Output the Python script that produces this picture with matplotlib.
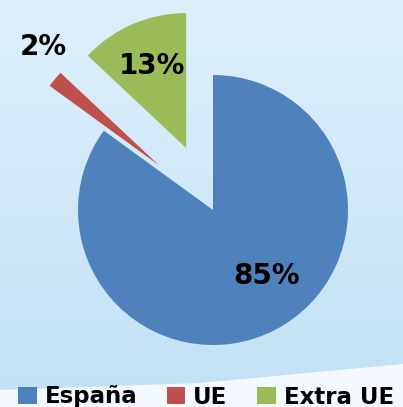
import numpy as np
import matplotlib.pyplot as plt
from matplotlib.patches import Polygon

# datos
categorias = ["España", "UE", "Extra UE"]
valores = [85, 2, 13]
etiquetas = ["85%", "2%", "13%"]
colores = ["#4F81BD", "#C0504D", "#9BBB59"]
separacion = [0.0, 0.52, 0.5]

# posicion de las etiquetas respecto al centro (en radios)
pos_etiquetas = [(0.40, -0.49), (-1.26, 1.21), (-0.45, 1.07)]

W, H = 403, 407
fig = plt.figure(figsize=(W / 100, H / 100), dpi=100)
fig.patch.set_facecolor("#D2E8F8")
ax = fig.add_axes([0, 0, 1, 1])

# fondo degradado
arriba = np.array([222, 239, 251]) / 255
abajo = np.array([194, 225, 245]) / 255
t = np.linspace(0, 1, 256)[:, None]
grad = (arriba * (1 - t) + abajo * t)[:, None, :]
ax.imshow(grad, extent=(0, W, 0, H), aspect="auto", zorder=0)

# franja clara de abajo
ax.add_patch(Polygon([(0, H - 390), (200, H - 383), (W, H - 364), (W, 0), (0, 0)],
                     closed=True, facecolor="#F3F9FE", edgecolor="none", zorder=0.5))

cx, cy, r = 213, H - 210, 135
# en pie() el explode va en unidades de datos, no en radios
wedges, _ = ax.pie(valores, colors=colores, explode=[e * r for e in separacion],
                   startangle=90, counterclock=False, radius=r, center=(cx, cy),
                   frame=True, wedgeprops=dict(linewidth=0))
ax.set_xlim(0, W)
ax.set_ylim(0, H)
ax.set_aspect("auto")
ax.axis("off")

for lab, (dx, dy) in zip(etiquetas, pos_etiquetas):
    ax.text(cx + dx * r, cy + dy * r, lab, fontsize=20, fontweight="bold",
            ha="center", va="center", color="black")

fig.legend(wedges, categorias, loc="center", bbox_to_anchor=(206 / W, 1 - 397 / H),
           ncol=3, frameon=False, borderpad=0,
           prop=dict(weight="bold", size=16.5), handlelength=0.8, handleheight=0.75,
           handletextpad=0.35, columnspacing=1.3)

fig.savefig("out.png", dpi=100, facecolor=fig.get_facecolor())
